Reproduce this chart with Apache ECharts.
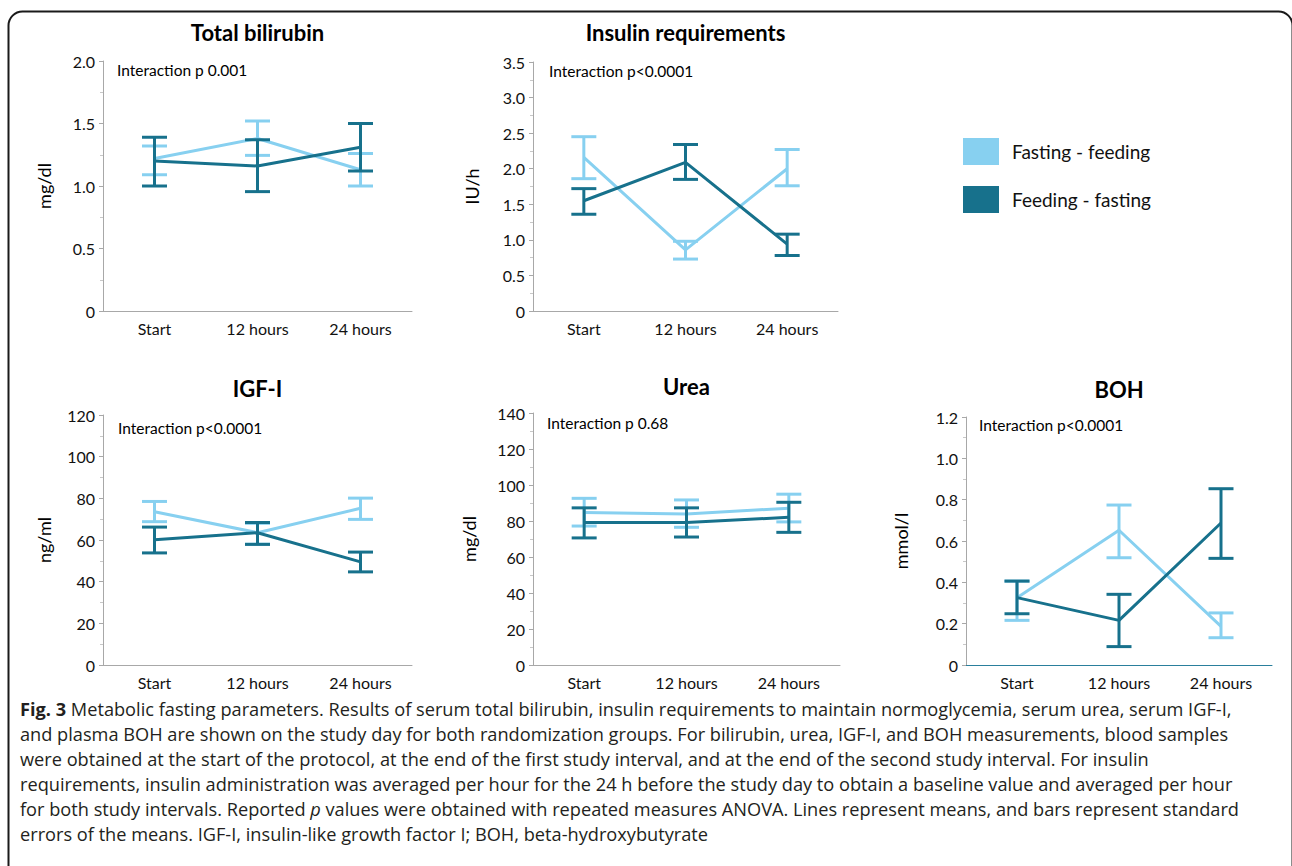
<!DOCTYPE html>
<html>
<head>
<meta charset="utf-8">
<script src="https://cdn.jsdelivr.net/npm/echarts@6/dist/echarts.min.js"></script>
<style>
  html, body { margin: 0; padding: 0; background: #fff; }
  #chart { width: 1292px; height: 866px; }
</style>
</head>
<body>
<div id="chart"></div>
<script>
const LIGHT = "#87d0f0";
const DARK = "#17718c";
const AXIS_GREY = "#a8a8a8";
const CHART_FONT = "Lato";

const categories = ["Start", "12 hours", "24 hours"];
const groupNames = ["Fasting - feeding", "Feeding - fasting"];

// total bilirubin (mg/dl)
const biliFastMean = [1.22, 1.38, 1.13];
const biliFastLow = [1.09, 1.245, 1.0];
const biliFastHigh = [1.32, 1.52, 1.26];
const biliFeedMean = [1.2, 1.16, 1.31];
const biliFeedLow = [1.0, 0.955, 1.12];
const biliFeedHigh = [1.39, 1.37, 1.5];

// insulin requirements (IU/h)
const insFastMean = [2.16, 0.86, 2.0];
const insFastLow = [1.86, 0.73, 1.76];
const insFastHigh = [2.45, 0.98, 2.27];
const insFeedMean = [1.55, 2.09, 0.94];
const insFeedLow = [1.36, 1.85, 0.78];
const insFeedHigh = [1.72, 2.34, 1.08];

// IGF-I (ng/ml)
const igfFastMean = [73.6, 63.5, 75.2];
const igfFastLow = [68.8, 58.0, 69.9];
const igfFastHigh = [78.5, 68.0, 80.1];
const igfFeedMean = [60.1, 63.5, 49.5];
const igfFeedLow = [53.8, 57.9, 44.7];
const igfFeedHigh = [66.2, 68.4, 54.2];

// urea (mg/dl)
const ureaFastMean = [84.7, 83.9, 87.1];
const ureaFastLow = [77.2, 76.5, 79.5];
const ureaFastHigh = [92.6, 91.7, 94.9];
const ureaFeedMean = [79.1, 79.1, 82.1];
const ureaFeedLow = [70.6, 71.1, 73.7];
const ureaFeedHigh = [87.3, 87.3, 90.4];

// BOH (mmol/l)
const bohFastMean = [0.326, 0.652, 0.187];
const bohFastLow = [0.216, 0.519, 0.132];
const bohFastHigh = [0.406, 0.774, 0.252];
const bohFeedMean = [0.326, 0.216, 0.687];
const bohFeedLow = [0.248, 0.089, 0.516];
const bohFeedHigh = [0.406, 0.342, 0.853];

const panels = [
  { title: "Total bilirubin", unit: "mg/dl", note: "Interaction p 0.001", max: 2.0, interval: 0.5, dec: 1,
    grid: { left: 103, top: 61, width: 309, height: 250 }, titleY: 21, noteX: 117, noteY: 72, nameGap: 50,
    fast: [biliFastMean, biliFastLow, biliFastHigh], feed: [biliFeedMean, biliFeedLow, biliFeedHigh] },
  { title: "Insulin requirements", unit: "IU/h", note: "Interaction p<0.0001", max: 3.5, interval: 0.5, dec: 1,
    grid: { left: 533, top: 62, width: 305, height: 249 }, titleY: 21, noteX: 549, noteY: 73, nameGap: 52,
    fast: [insFastMean, insFastLow, insFastHigh], feed: [insFeedMean, insFeedLow, insFeedHigh] },
  { title: "IGF-I", unit: "ng/ml", note: "Interaction p<0.0001", max: 120, interval: 20, dec: 0,
    grid: { left: 103, top: 415, width: 309, height: 250 }, titleY: 377, noteX: 118, noteY: 430, nameGap: 50,
    fast: [igfFastMean, igfFastLow, igfFastHigh], feed: [igfFeedMean, igfFeedLow, igfFeedHigh] },
  { title: "Urea", unit: "mg/dl", note: "Interaction p 0.68", max: 140, interval: 20, dec: 0,
    grid: { left: 533, top: 413, width: 307, height: 252 }, titleY: 375, noteX: 547, noteY: 425, nameGap: 55,
    fast: [ureaFastMean, ureaFastLow, ureaFastHigh], feed: [ureaFeedMean, ureaFeedLow, ureaFeedHigh] },
  { title: "BOH", unit: "mmol/l", note: "Interaction p<0.0001", max: 1.2, interval: 0.2, dec: 1,
    grid: { left: 966, top: 417, width: 306, height: 248 }, titleY: 378, noteX: 979, noteY: 427, nameGap: 56, tealX: true,
    fast: [bohFastMean, bohFastLow, bohFastHigh], feed: [bohFeedMean, bohFeedLow, bohFeedHigh] }
];

const captionLines = [
  "{b|Fig. 3} Metabolic fasting parameters. Results of serum total bilirubin, insulin requirements to maintain normoglycemia, serum urea, serum IGF-I,",
  "and plasma BOH are shown on the study day for both randomization groups. For bilirubin, urea, IGF-I, and BOH measurements, blood samples",
  "were obtained at the start of the protocol, at the end of the first study interval, and at the end of the second study interval. For insulin",
  "requirements, insulin administration was averaged per hour for the 24 h before the study day to obtain a baseline value and averaged per hour",
  "for both study intervals. Reported {i|p} values were obtained with repeated measures ANOVA. Lines represent means, and bars represent standard",
  "errors of the means. IGF-I, insulin-like growth factor I; BOH, beta-hydroxybutyrate"
];
const CAP_SIZE = 18.2;

function errorBar(color) {
  return function (params, api) {
    const lo = api.coord([api.value(0), api.value(1)]);
    const hi = api.coord([api.value(0), api.value(2)]);
    const hw = 12.5;
    const st = { stroke: color, lineWidth: 3 };
    return {
      type: "group",
      children: [
        { type: "line", shape: { x1: lo[0], y1: lo[1], x2: hi[0], y2: hi[1] }, style: st },
        { type: "line", shape: { x1: lo[0] - hw, y1: lo[1], x2: lo[0] + hw, y2: lo[1] }, style: st },
        { type: "line", shape: { x1: hi[0] - hw, y1: hi[1], x2: hi[0] + hw, y2: hi[1] }, style: st }
      ]
    };
  };
}

const grids = [], xAxes = [], yAxes = [], series = [], titles = [], graphics = [];

panels.forEach((p, i) => {
  grids.push(Object.assign({ containLabel: false }, p.grid));
  titles.push({
    text: p.title, left: p.grid.left + p.grid.width / 2, top: p.titleY, textAlign: "center", padding: 0,
    textStyle: { fontFamily: CHART_FONT, fontSize: 22, fontWeight: "bold", color: "#000" }
  });
  xAxes.push({
    type: "category", gridIndex: i, data: categories, boundaryGap: true,
    axisLine: { lineStyle: { color: p.tealX ? "#2a7f9c" : AXIS_GREY, width: 1 } },
    axisTick: { show: false },
    axisLabel: { color: "#111", fontFamily: CHART_FONT, fontSize: 16, margin: 9 }
  });
  yAxes.push({
    type: "value", gridIndex: i, min: 0, max: p.max, interval: p.interval,
    name: p.unit, nameLocation: "middle", nameGap: p.nameGap,
    nameTextStyle: { fontFamily: CHART_FONT, fontSize: 18, color: "#000" },
    axisLine: { show: true, lineStyle: { color: AXIS_GREY, width: 1 } },
    axisTick: { show: true, length: 4, lineStyle: { color: AXIS_GREY } },
    minorTick: { show: true, splitNumber: 2, length: 3, lineStyle: { color: "#c8c8c8" } },
    splitLine: { show: false },
    axisLabel: {
      color: "#111", fontFamily: CHART_FONT, fontSize: 16, margin: 8,
      formatter: v => (v === 0 ? "0" : v.toFixed(p.dec))
    }
  });
  graphics.push({
    type: "text", left: p.noteX, top: p.noteY - 10,
    style: { text: p.note, fontFamily: CHART_FONT, fontSize: 15.5, fill: "#000" }
  });

  [[p.fast, LIGHT, groupNames[0]], [p.feed, DARK, groupNames[1]]].forEach(([d, color, name], k) => {
    series.push({
      type: "line", name: name, xAxisIndex: i, yAxisIndex: i, data: d[0],
      symbol: "none", lineStyle: { color: color, width: 3 }, itemStyle: { color: color },
      z: 2 + k * 2, silent: true
    });
    series.push({
      type: "custom", name: name, xAxisIndex: i, yAxisIndex: i,
      data: categories.map((c, j) => [j, d[1][j], d[2][j]]),
      renderItem: errorBar(color), itemStyle: { color: color },
      encode: { x: 0, y: [1, 2] }, z: 3 + k * 2, silent: true
    });
  });
});

// frame
graphics.push({
  type: "rect", left: 6, top: 9, z: -1,
  shape: { width: 1284, height: 872, r: 14 },
  style: { fill: "none", stroke: "#1a1a1a", lineWidth: 2 }
});

// caption
captionLines.forEach((line, n) => {
  graphics.push({
    type: "text", left: 20, top: 700 + n * 25,
    style: {
      text: line, fontFamily: "Open Sans", fontSize: CAP_SIZE, fill: "#231f20",
      rich: {
        b: { fontFamily: "Open Sans", fontSize: CAP_SIZE, fontWeight: "bold", fill: "#231f20" },
        i: { fontFamily: "Open Sans", fontSize: CAP_SIZE, fontStyle: "italic", fill: "#231f20" }
      }
    }
  });
});

const chart = echarts.init(document.getElementById("chart"), null, { renderer: "svg" });
chart.setOption({
  animation: false,
  backgroundColor: "#fff",
  title: titles,
  legend: {
    orient: "vertical", left: 963, top: 138, itemGap: 21, padding: 0,
    itemWidth: 36, itemHeight: 27, icon: "rect",
    textStyle: { fontFamily: CHART_FONT, fontSize: 19, color: "#111", padding: [0, 0, 0, 8] },
    data: [
      { name: groupNames[0], itemStyle: { color: LIGHT } },
      { name: groupNames[1], itemStyle: { color: DARK } }
    ]
  },
  grid: grids,
  xAxis: xAxes,
  yAxis: yAxes,
  series: series,
  graphic: graphics
});
</script>
</body>
</html>
